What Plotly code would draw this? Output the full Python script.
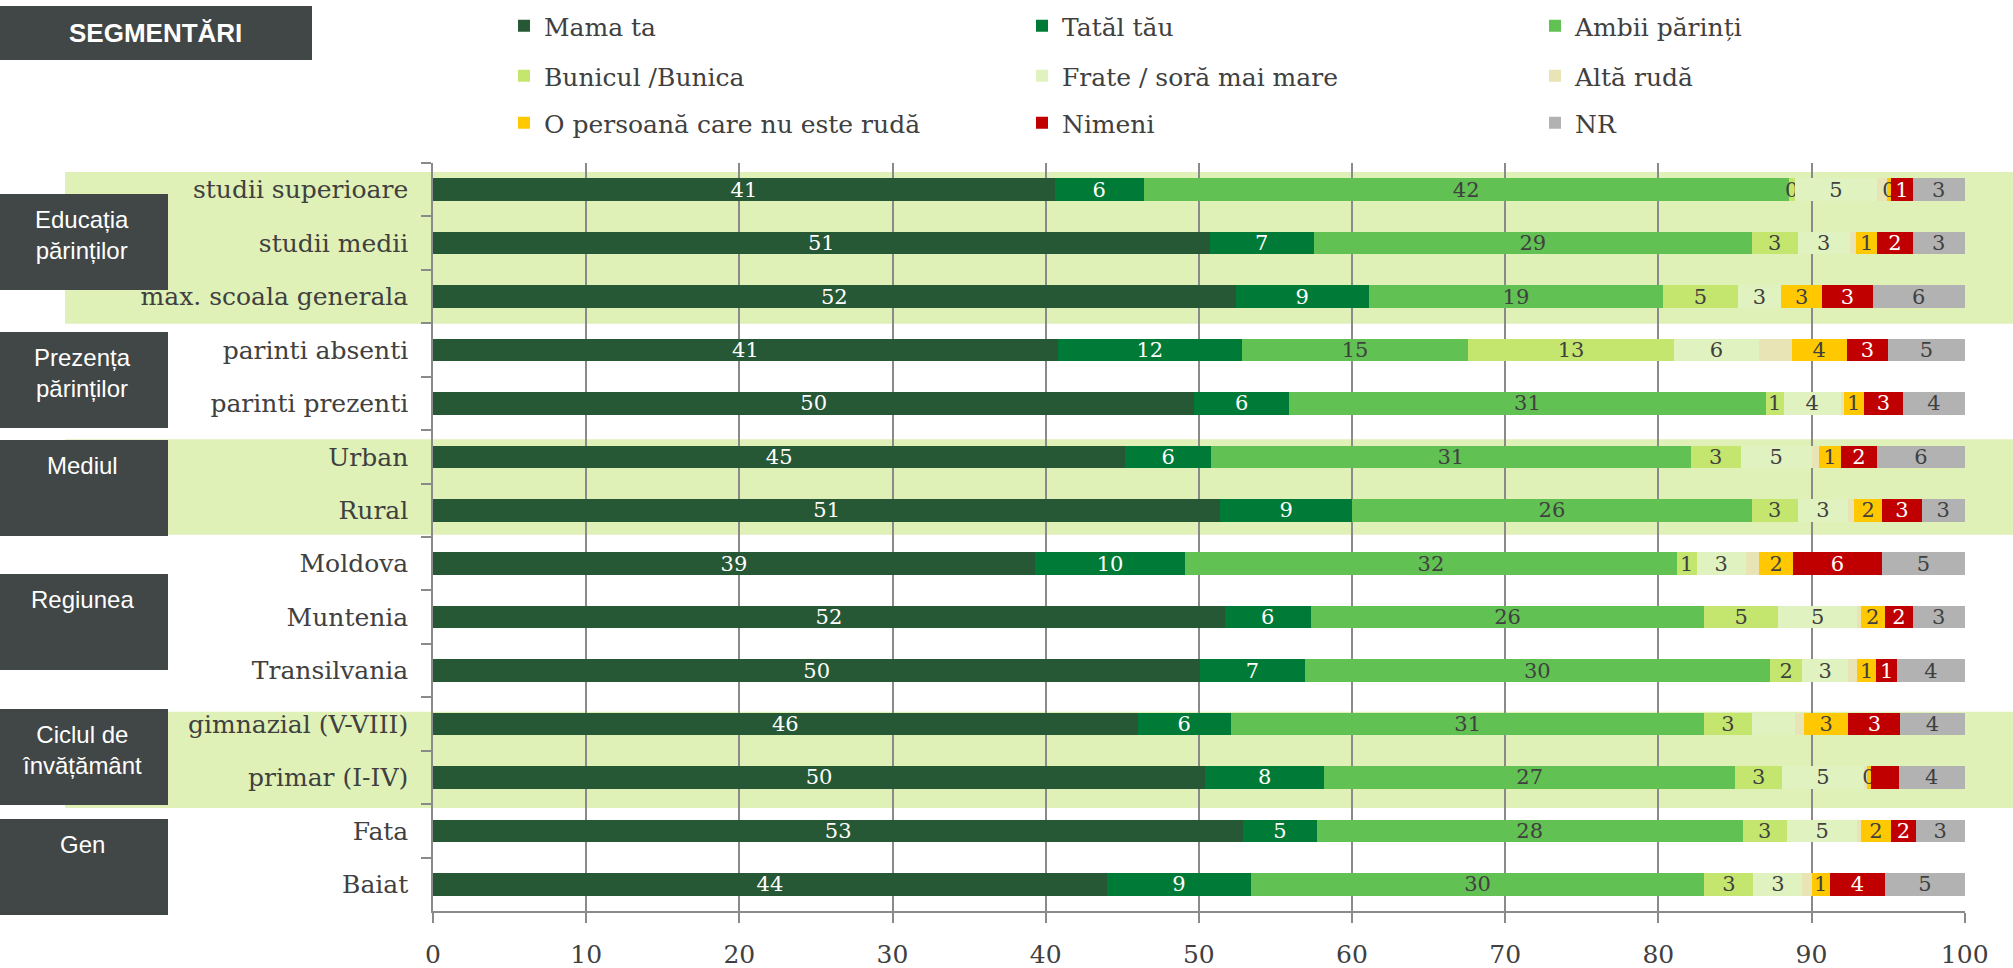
import plotly.graph_objects as go

# ---------------- data ----------------
categories = ["studii superioare", "studii medii", "max. scoala generala",
              "parinti absenti", "parinti prezenti", "Urban", "Rural",
              "Moldova", "Muntenia", "Transilvania",
              "gimnazial (V-VIII)", "primar (I-IV)", "Fata", "Baiat"]

series_names = ["Mama ta", "Tatăl tău", "Ambii părinți", "Bunicul /Bunica",
                "Frate / soră mai mare", "Altă rudă",
                "O persoană care nu este rudă", "Nimeni", "NR"]

mama     = [40.6, 50.7, 52.4, 40.8, 49.7, 45.2, 51.4, 39.3, 51.7, 50.1, 46.0, 50.4, 52.9, 44.0]
tatal    = [5.8, 6.8, 8.7, 12.0, 6.2, 5.6, 8.6, 9.8, 5.6, 6.8, 6.1, 7.8, 4.8, 9.4]
ambii    = [42.1, 28.6, 19.2, 14.8, 31.1, 31.3, 26.1, 32.1, 25.7, 30.4, 30.9, 26.8, 27.8, 29.6]
bunici   = [0.4, 3.0, 4.9, 13.4, 1.2, 3.3, 3.0, 1.3, 4.8, 2.1, 3.1, 3.1, 2.9, 3.2]
frate    = [5.4, 3.4, 2.8, 5.6, 3.7, 4.6, 3.3, 3.2, 5.2, 3.0, 2.8, 5.3, 4.6, 3.2]
alta     = [0.6, 0.4, 0.0, 2.1, 0.2, 0.5, 0.4, 0.9, 0.2, 0.6, 0.6, 0.2, 0.2, 0.6]
persoana = [0.3, 1.4, 2.7, 3.6, 1.3, 1.4, 1.8, 2.2, 1.6, 1.2, 2.9, 0.3, 2.0, 1.2]
nimeni   = [1.4, 2.3, 3.3, 2.7, 2.6, 2.4, 2.6, 5.8, 1.8, 1.4, 3.4, 1.8, 1.6, 3.6]
nr       = [3.4, 3.4, 6.0, 5.0, 4.0, 5.7, 2.8, 5.4, 3.4, 4.4, 4.2, 4.3, 3.2, 5.2]

series_values = [mama, tatal, ambii, bunici, frate, alta, persoana, nimeni, nr]

# labels not shown in the original
unlabeled_series = ["Altă rudă"]
hidden_labels = [("Frate / soră mai mare", "gimnazial (V-VIII)"),
                 ("Nimeni", "primar (I-IV)")]

group_titles = ["Educația<br>părinților", "Prezența<br>părinților", "Mediul",
                "Regiunea", "Ciclul de<br>învățământ", "Gen"]

x_ticks = [0, 10, 20, 30, 40, 50, 60, 70, 80, 90, 100]

# ---------------- styles ----------------
colors = ["#275836", "#007A37", "#62C153", "#C4E66E", "#E0F2BF",
          "#E9E4B6", "#FFC800", "#C00000", "#B2B2B2"]
text_colors = ["white", "white", "#404040", "#404040", "#404040",
               "#404040", "#404040", "white", "#404040"]

SERIF = "DejaVu Serif"
SANS = "Liberation Sans, Arial"
TXT = "#404040"
GRID = "#8A8A8A"
BOX = "#414646"
BAND = "#DFF1B7"

W, H = 2013, 968
ML, MR, MT, MB = 433, 48, 163, 57
PW, PH = W - ML - MR, H - MT - MB


def px2x(px):
    return (px - ML) / PW


def px2y(py):
    return (H - MB - py) / PH


legend_cols_px = [504, 1022, 1535]
legend_rows_px = [26, 76, 123]

fig = go.Figure()
legend_layouts = {}
for i, (name, vals, col, tcol) in enumerate(zip(series_names, series_values,
                                                colors, text_colors)):
    if name in unlabeled_series:
        texts = ["" for _ in vals]
    else:
        texts = []
        for cat, v in zip(categories, vals):
            if (name, cat) in hidden_labels:
                texts.append("")
            else:
                texts.append(str(int(round(v))))
    lid = "legend" if i == 0 else f"legend{i + 1}"
    legend_layouts[lid] = dict(
        x=px2x(legend_cols_px[i % 3]), y=px2y(legend_rows_px[i // 3]),
        xanchor="left", yanchor="middle", orientation="v",
        bgcolor="rgba(0,0,0,0)", borderwidth=0,
        font=dict(family=SERIF, size=25, color=TXT),
        itemclick=False, itemdoubleclick=False)
    fig.add_trace(go.Bar(
        name=name, y=categories, x=vals, orientation="h",
        marker=dict(color=col, line=dict(width=0)),
        text=texts, textposition="inside", insidetextanchor="middle",
        textangle=0, cliponaxis=False,
        textfont=dict(family=SERIF, size=21, color=tcol),
        legend=lid, showlegend=True, hoverinfo="x+name",
    ))

shapes = []
# light green bands behind groups (in category index units)
bands = [(-0.33, 2.51), (4.67, 6.46), (9.77, 11.57)]
for y0, y1 in bands:
    shapes.append(dict(type="rect", xref="paper", yref="y",
                       x0=px2x(65), x1=px2x(W + 5), y0=y0, y1=y1,
                       fillcolor=BAND, line=dict(width=0), layer="below"))

# dark group boxes (pixel tops)
box_tops = [194, 332, 440, 574, 709, 819]
annotations = []
for top, title in zip(box_tops, group_titles):
    shapes.append(dict(type="rect", xref="paper", yref="paper",
                       x0=px2x(-2), x1=px2x(168), y0=px2y(top), y1=px2y(top + 96),
                       fillcolor=BOX, line=dict(width=0), layer="above"))
    annotations.append(dict(xref="paper", yref="paper", x=px2x(82), y=px2y(top + 10),
                            xanchor="center", yanchor="top", showarrow=False,
                            text=title, align="center",
                            font=dict(family=SANS, size=24, color="white")))

# SEGMENTARI header box
shapes.append(dict(type="rect", xref="paper", yref="paper",
                   x0=px2x(-2), x1=px2x(312), y0=px2y(6), y1=px2y(60),
                   fillcolor=BOX, line=dict(width=0), layer="above"))
annotations.append(dict(xref="paper", yref="paper", x=px2x(155), y=px2y(33),
                        xanchor="center", yanchor="middle", showarrow=False,
                        text="<b>SEGMENTĂRI</b>",
                        font=dict(family=SANS, size=26, color="white")))

fig.update_layout(
    width=W, height=H,
    margin=dict(l=ML, r=MR, t=MT, b=MB, autoexpand=False),
    paper_bgcolor="white", plot_bgcolor="rgba(0,0,0,0)",
    barmode="stack", bargap=0.58, showlegend=True,
    uniformtext=dict(minsize=21, mode="show"),
    shapes=shapes, annotations=annotations,
    xaxis=dict(range=[0, 100.02], tickvals=x_ticks, showgrid=True, gridcolor=GRID,
               gridwidth=1.5, showline=True, linecolor=GRID, linewidth=1.5,
               ticks="outside", ticklen=10, tickcolor=GRID, tickwidth=1.5,
               ticklabelstandoff=10, zeroline=False,
               tickfont=dict(family=SERIF, size=25, color=TXT)),
    yaxis=dict(range=[13.5, -0.5], showgrid=False, showline=True,
               linecolor=GRID, linewidth=1.5, ticks="outside", ticklen=10,
               tickcolor=GRID, tickwidth=1.5, tickson="boundaries",
               ticklabelstandoff=18, zeroline=False,
               tickfont=dict(family=SERIF, size=25, color=TXT)),
    **legend_layouts,
)

fig.write_html("out.html",
               config={"displayModeBar": False},
               post_script="document.body.style.margin='0';"
                           "document.body.style.overflow='hidden';")
